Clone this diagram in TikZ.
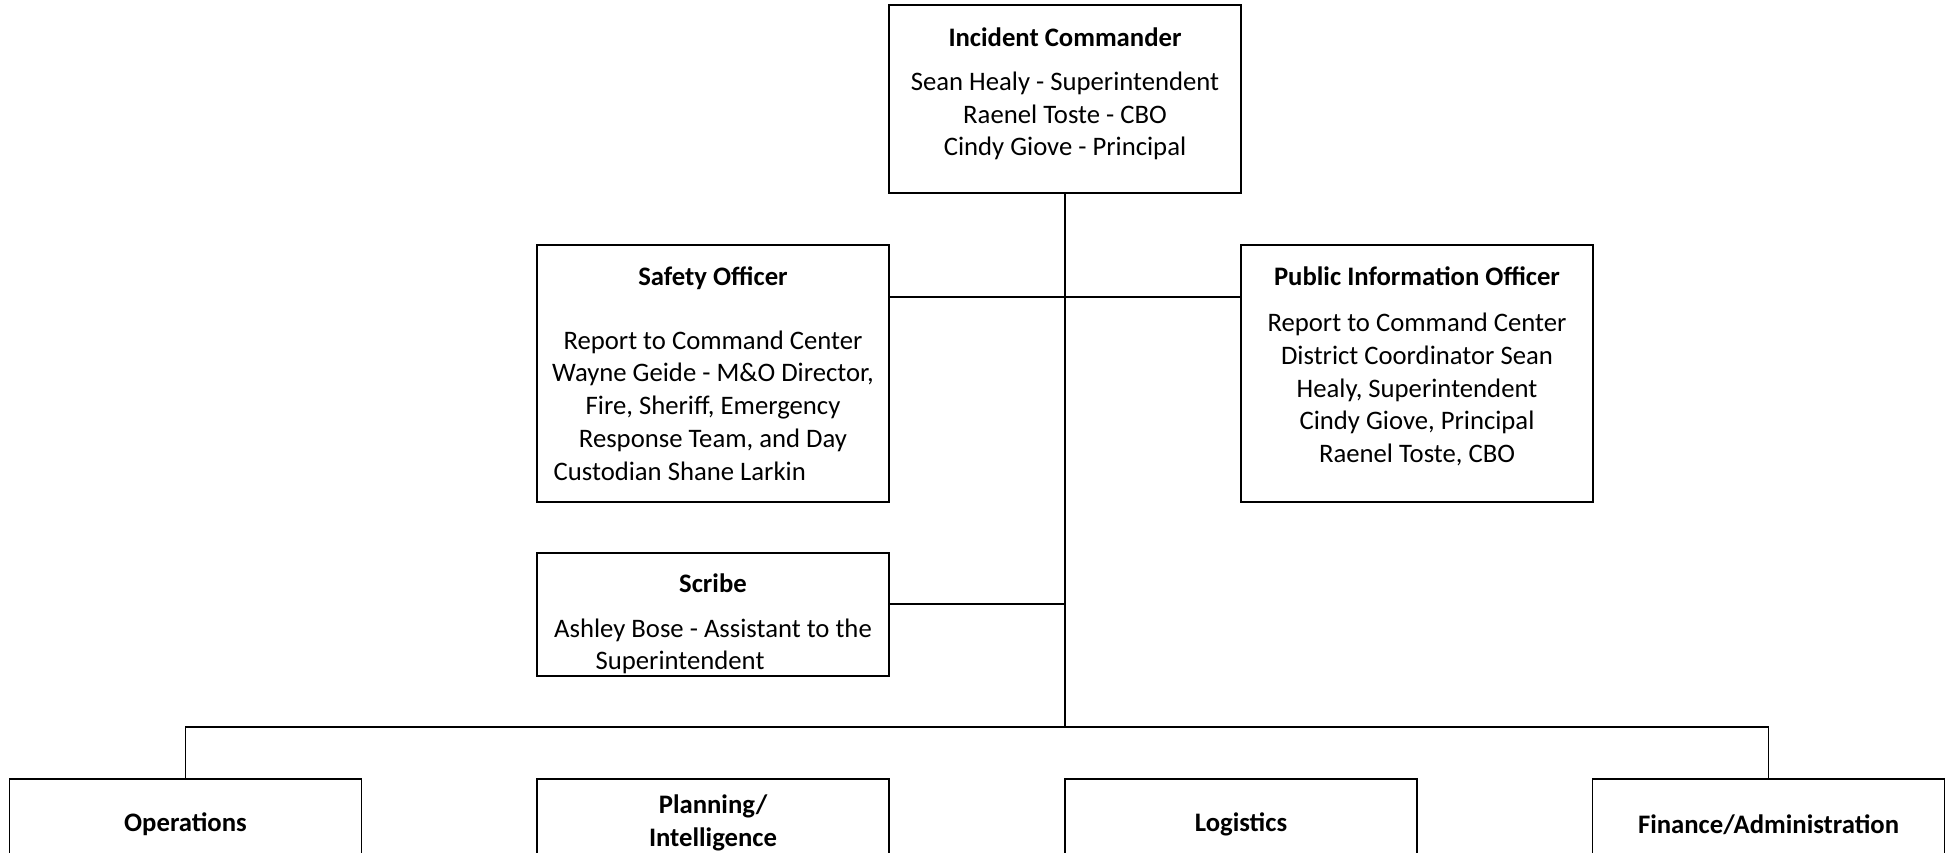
\documentclass[tikz,border=0pt]{standalone}
\usepackage{fontspec}
\setmainfont{Carlito}
\begin{document}
\begin{tikzpicture}[x=1pt,y=-1pt,line width=1.3pt,
  box/.style={draw,minimum width=352pt,inner sep=0pt},
  txt/.style={align=center,inner sep=0pt,font=\fontsize{26.7}{32.6}\selectfont},
  hd/.style={align=center,inner sep=0pt,font=\fontsize{26.7}{33}\selectfont\bfseries}]
    \useasboundingbox (0,0) rectangle (1949,853);
    \clip (0,0) rectangle (1949,853);
    \node[box,minimum height=188pt] (ic) at (1065,99) {};
    \node[box,minimum height=257pt] (safety) at (713,373.5) {};
    \node[box,minimum height=257pt] (pio) at (1417,373.5) {};
    \node[box,minimum height=123pt] (scribe) at (713,614.5) {};
    \node[box,minimum height=200pt] (ops) at (185.5,879) {};
    \node[box,minimum height=200pt] (plan) at (713,879) {};
    \node[box,minimum height=200pt] (logi) at (1241,879) {};
    \node[box,minimum height=200pt] (fin) at (1768.5,879) {};
    \node[hd] (icT) at (1065,37) {Incident Commander};
    \node[txt] (icB) at (1065,116) {Sean Healy - Superintendent\\Raenel Toste - CBO\\Cindy Giove - Principal};
    \node[hd] (safetyT) at (713,278.5) {Safety Officer};
    \node[txt] (safetyB) at (713,391) {Report to Command Center\\Wayne Geide - M\&O Director,\\Fire, Sheriff, Emergency\\Response Team, and Day};
    \node[txt,anchor=west] (safetyL) at (553,471) {Custodian Shane Larkin};
    \node[hd] (pioT) at (1417,276.5) {Public Information Officer};
    \node[txt] (pioB) at (1417,389.5) {Report to Command Center\\District Coordinator Sean\\Healy, Superintendent\\Cindy Giove, Principal\\Raenel Toste, CBO};
    \node[hd] (scribeT) at (713,583) {Scribe};
    \node[txt] (scribeB) at (713,630.5) {Ashley Bose - Assistant to the};
    \node[txt,anchor=west] (scribeL) at (595,662.5) {Superintendent};
    \node[hd] (opsT) at (185.5,824.5) {Operations};
    \node[hd] (planT) at (713,823) {Planning/\\Intelligence};
    \node[hd] (logiT) at (1241,824.5) {Logistics};
    \node[hd] (finT) at (1768.5,824.5) {Finance/Administration};
    \coordinate (sj) at (1065,297);
    \coordinate (cj) at (1065,604);
    \coordinate (bus) at (1065,727);
    \draw (ic.south) -- (bus);
    \draw (safety.east |- sj) -- (pio.west |- sj);
    \draw (scribe.east |- cj) -- (cj);
    \draw (ops.north) |- (bus) -| (fin.north);
\end{tikzpicture}
\end{document}
